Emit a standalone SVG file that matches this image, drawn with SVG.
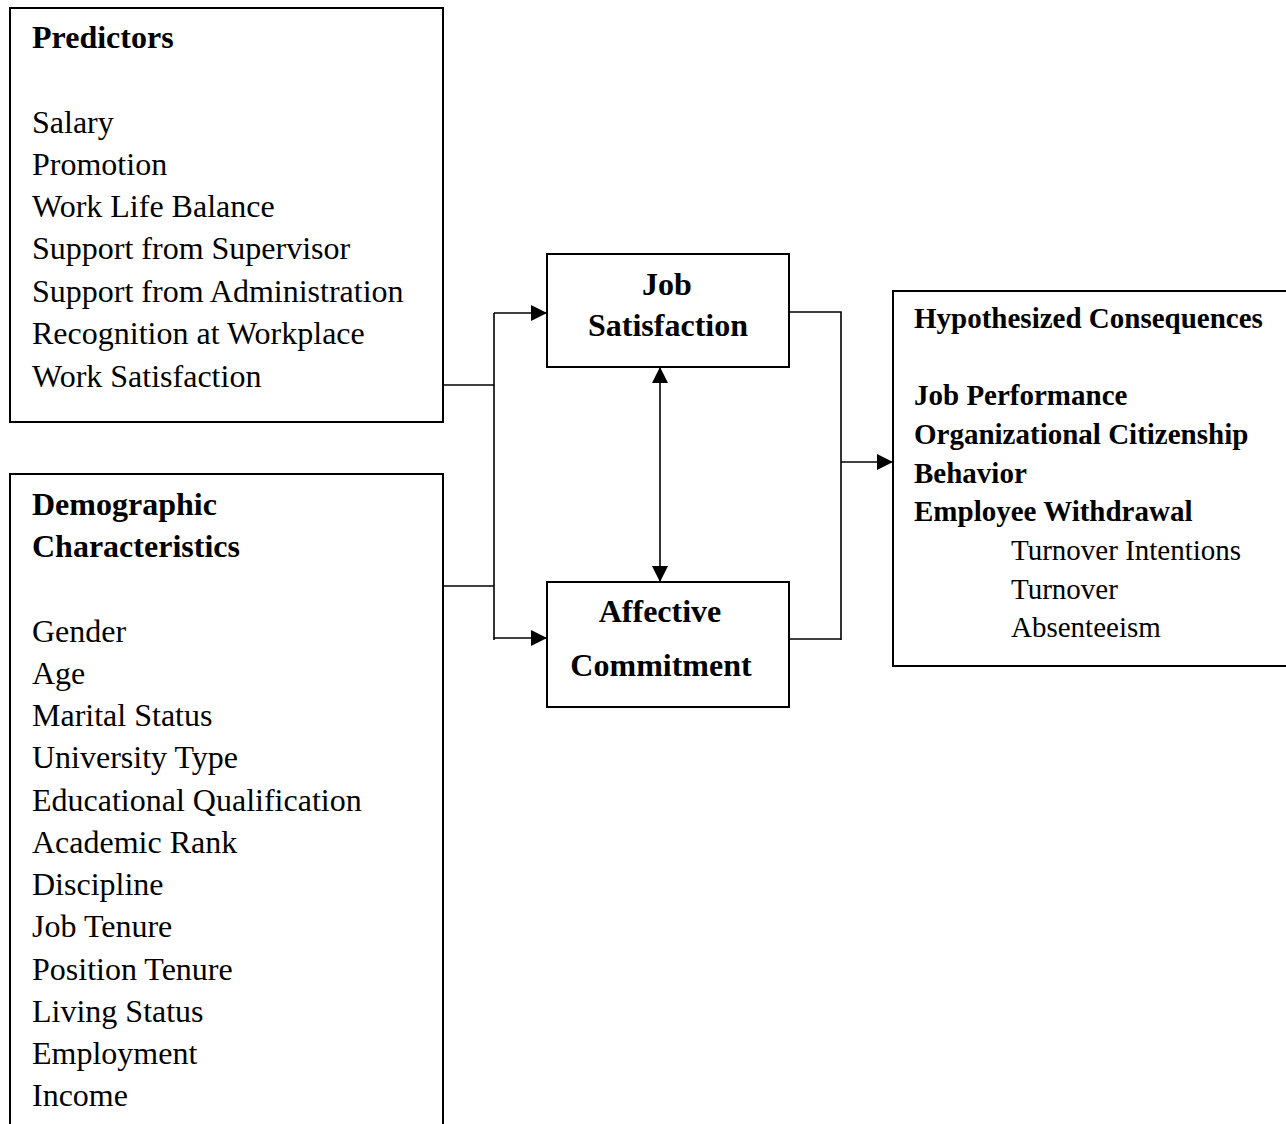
<svg xmlns="http://www.w3.org/2000/svg" width="1286" height="1124" viewBox="0 0 1286 1124">
<style>
.box{fill:#fff;stroke:#000;stroke-width:2}
.t{font-family:"Liberation Serif","Times New Roman",serif;fill:#000}
.r32{font-size:32px}
.b32{font-size:32px;font-weight:bold}
.r29{font-size:29px}
.b29{font-size:29px;font-weight:bold}
.ln{fill:none;stroke:#000;stroke-width:1.6}
</style>
<defs>
<marker id="ah" markerUnits="userSpaceOnUse" markerWidth="16" markerHeight="16" viewBox="0 0 16 16" refX="16" refY="8" orient="auto-start-reverse">
<path d="M0,0 L16,8 L0,16 Z" fill="#000"/>
</marker>
</defs>
<rect width="1286" height="1124" fill="#fff"/>
<g id="predictors">
<rect class="box" x="10" y="8" width="433" height="414"/>
<text class="t b32" x="32" y="48">Predictors</text>
<text class="t r32" x="32" y="133">Salary</text>
<text class="t r32" x="32" y="175">Promotion</text>
<text class="t r32" x="32" y="217">Work Life Balance</text>
<text class="t r32" x="32" y="259">Support from Supervisor</text>
<text class="t r32" x="32" y="302">Support from Administration</text>
<text class="t r32" x="32" y="344">Recognition at Workplace</text>
<text class="t r32" x="32" y="387">Work Satisfaction</text>
</g>
<g id="demographics">
<rect class="box" x="10" y="474" width="433" height="670"/>
<text class="t b32" x="32" y="515">Demographic</text>
<text class="t b32" x="32" y="557">Characteristics</text>
<text class="t r32" x="32" y="642">Gender</text>
<text class="t r32" x="32" y="684">Age</text>
<text class="t r32" x="32" y="726">Marital Status</text>
<text class="t r32" x="32" y="768">University Type</text>
<text class="t r32" x="32" y="811">Educational Qualification</text>
<text class="t r32" x="32" y="853">Academic Rank</text>
<text class="t r32" x="32" y="895">Discipline</text>
<text class="t r32" x="32" y="937">Job Tenure</text>
<text class="t r32" x="32" y="980">Position Tenure</text>
<text class="t r32" x="32" y="1022">Living Status</text>
<text class="t r32" x="32" y="1064">Employment</text>
<text class="t r32" x="32" y="1106">Income</text>
</g>
<g id="job-satisfaction">
<rect class="box" x="547" y="254" width="242" height="113"/>
<text class="t b32" x="667" y="295" text-anchor="middle">Job</text>
<text class="t b32" x="668" y="336" text-anchor="middle">Satisfaction</text>
</g>
<g id="affective-commitment">
<rect class="box" x="547" y="582" width="242" height="125"/>
<text class="t b32" x="660" y="622" text-anchor="middle">Affective</text>
<text class="t b32" x="661" y="676" text-anchor="middle">Commitment</text>
</g>
<g id="consequences">
<rect class="box" x="893" y="291" width="400" height="375"/>
<text class="t b29" x="914" y="328">Hypothesized Consequences</text>
<text class="t b29" x="914" y="405">Job Performance</text>
<text class="t b29" x="914" y="444">Organizational Citizenship</text>
<text class="t b29" x="914" y="483">Behavior</text>
<text class="t b29" x="914" y="521">Employee Withdrawal</text>
<text class="t r29" x="1011" y="560">Turnover Intentions</text>
<text class="t r29" x="1011" y="599">Turnover</text>
<text class="t r29" x="1011" y="637">Absenteeism</text>
</g>
<g id="connectors">
<path class="ln" d="M443,385 H494"/>
<path class="ln" d="M443,586 H494"/>
<path class="ln" d="M494,313 V640"/>
<path class="ln" d="M494,313 H547" marker-end="url(#ah)"/>
<path class="ln" d="M494,638 H547" marker-end="url(#ah)"/>
<path class="ln" d="M789,312 H841 V640"/>
<path class="ln" d="M789,639 H841"/>
<path class="ln" d="M841,462 H893" marker-end="url(#ah)"/>
<path class="ln" d="M660,367 V582" marker-start="url(#ah)" marker-end="url(#ah)"/>
</g>
</svg>
